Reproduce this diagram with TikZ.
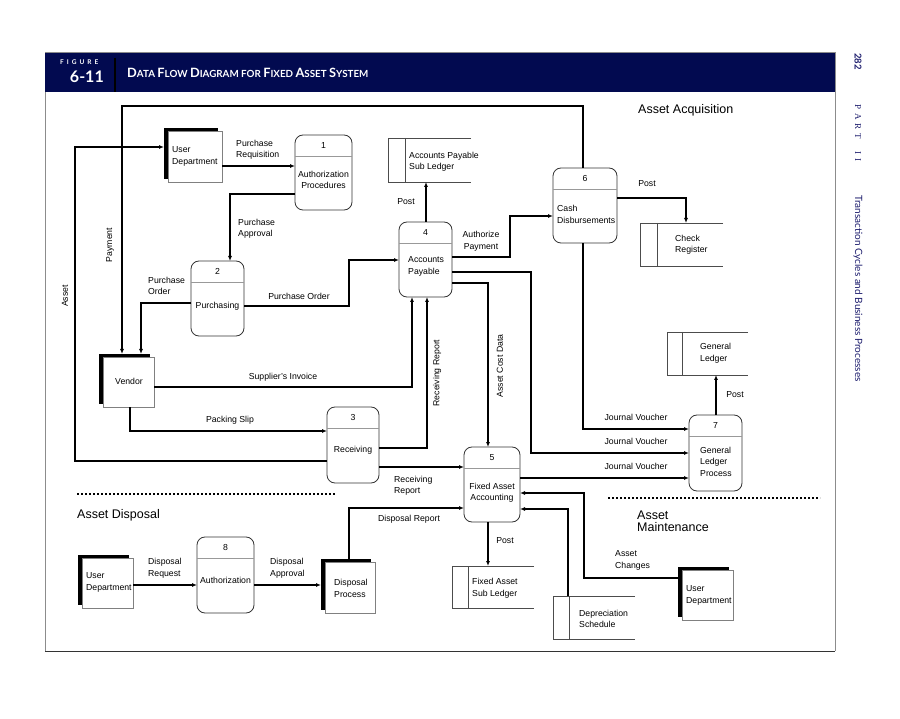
\documentclass[tikz,border=0pt]{standalone}
\usepackage{fontspec}
\setmainfont{Liberation Sans}
\newfontfamily\latofont{Lato}
\newfontfamily\seriffont{Liberation Serif}
\usetikzlibrary{arrows.meta,calc,fit}
\definecolor{navy}{RGB}{2,10,80}
\definecolor{margincol}{RGB}{30,30,110}
\newcommand\lf{\fontsize{8.7}{11.5}\selectfont}
\newcommand\mysc[2]{{\fontsize{12.8}{13}\selectfont #1}{\fontsize{9.8}{10}\selectfont #2}}
\tikzset{
  proc/.style={draw=black!80, line width=0.8pt, rounded corners=8pt, fill=white, inner sep=0pt, outer sep=0pt},
  divl/.style={draw=black!40, line width=0.8pt},
  entbox/.style={draw=black!50, line width=0.7pt, fill=white, inner sep=0pt, outer sep=0pt},
  entshadow/.style={fill=black, inner sep=0pt, outer sep=0pt},
  storeline/.style={draw=black!70, line width=0.8pt},
  flow/.style={line width=1.25pt, -{Latex[length=5pt,width=4pt]}},
  lbl/.style={align=left, anchor=west, inner sep=0pt},
  lblc/.style={align=center, inner sep=0pt},
  sect/.style={font=\fontsize{12.5}{13}\selectfont, align=left, anchor=west, inner sep=0pt},
  dotl/.style={line width=1.2pt, dash pattern=on 2pt off 2pt},
  margin/.style={text=margincol, rotate=-90, anchor=west, inner sep=0pt}
}
\newcommand\proc[6]{%
  \node[proc, minimum width=#4pt, minimum height=#5pt] (#1) at (#2,#3) {};
  \draw[divl] ([yshift=-21pt]#1.north west) -- ([yshift=-21pt]#1.north east);
  \node[inner sep=0pt] at ([yshift=-10.5pt]#1.north) {#6};
}
\newcommand\ent[5]{%
  \node[entshadow, minimum width=#4pt, minimum height=#5pt] (#1s) at ($(#2,#3)+(-4,-3)$) {};
  \node[entbox, minimum width=#4pt, minimum height=#5pt] (#1) at (#2,#3) {};
}
\newcommand\store[6]{%
  \node[inner sep=0pt, outer sep=0pt, fit={(#2,#3) (#4,#5)}] (#1) {};
  \draw[storeline] (#1.north east) -- (#1.north west) -- (#1.south west) -- (#1.south east);
  \draw[storeline] (#6,0 |- #1.north) -- (#6,0 |- #1.south);
}
\begin{document}
\begin{tikzpicture}[x=1pt,y=-1pt,font=\lf]
\useasboundingbox (0,0) rectangle (900,719);
\fill[white] (0,0) rectangle (900,719);

% header and frame
\fill[navy] (45,52) rectangle (835,92);
\draw[black!45, line width=0.8pt] (45,52) -- (835,52);
\draw[black!45, line width=1pt] (45,92) -- (45,651);
\draw[black!45, line width=1pt] (835,52) -- (835,651);
\draw[black!80, line width=1pt] (45,651) -- (835,651);
\draw[black, line width=1.8pt] (115,58) -- (115,92);
\node[text=white, anchor=west, inner sep=0pt, font=\latofont\bfseries\fontsize{6.5}{7}\selectfont] (fig) at (60,62) {F\hspace{3pt}I\hspace{3pt}G\hspace{3pt}U\hspace{3pt}R\hspace{3pt}E};
\node[text=white, anchor=east, inner sep=0pt, font=\latofont\bfseries\fontsize{16}{17}\selectfont] (fignum) at (104,77) {6-11};
\node[text=white, anchor=west, inner sep=0pt, font=\latofont\bfseries] (title) at (127,73) {\mysc{D}{ATA} \mysc{F}{LOW} \mysc{D}{IAGRAM} \mysc{}{FOR} \mysc{F}{IXED} \mysc{A}{SSET} \mysc{S}{YSTEM}};

% margin
\node[margin, font=\latofont\bfseries\fontsize{9.5}{10}\selectfont] (page) at (858,53) {282};
\node[margin, font=\seriffont\fontsize{9}{10}\selectfont] (part) at (858,104) {P\hspace{4pt}A\hspace{4pt}R\hspace{4pt}T\hspace{12pt}I\hspace{4pt}I};
\node[margin, font=\latofont\fontsize{10}{11}\selectfont] (chap) at (858,195) {Transaction Cycles and Business Processes};

% section titles
\node[sect] (acq) at (638,110) {Asset Acquisition};
\node[sect] (disp) at (77,515) {Asset Disposal};
\node[sect, font=\fontsize{12.5}{13}\selectfont] (maint) at (637,521.5) {Asset\\[-0.5pt]Maintenance};
\draw[dotl] (77,494) -- (335,494);
\draw[dotl] (608,498) -- (820,498);

% processes
\proc{p1}{323.5}{172.5}{57}{75}{1}
\node[lblc] at (323.5,180) {Authorization\\Procedures};
\proc{p2}{217.5}{298.5}{53}{75}{2}
\node[lblc] at (217.5,306) {Purchasing};
\proc{p3}{353}{445}{52}{76}{3}
\node[lblc] at (353,450) {Receiving};
\proc{p4}{425.5}{259.5}{53}{75}{4}
\node[lbl] at (408,266.5) {Accounts\\Payable};
\proc{p5}{492}{484.5}{56}{75}{5}
\node[lblc] at (492,492.5) {Fixed Asset\\Accounting};
\proc{p6}{585}{205.5}{64}{75}{6}
\node[lbl] at (557,214.5) {Cash\\Disbursements};
\proc{p7}{715.5}{453}{53}{76}{7}
\node[lbl] at (700,461.5) {General\\Ledger\\Process};
\proc{p8}{225.5}{575}{57}{76}{8}
\node[lblc] at (225.5,580) {Authorization};

% external entities
\ent{ud1}{195}{156.5}{54}{51}
\node[lbl] at (172,156.5) {User\\Department};
\ent{ven}{128.5}{382}{51}{50}
\node[lblc] at (129,381) {Vendor};
\ent{ud3}{107.5}{583}{51}{50}
\node[lbl] at (86,582.5) {User\\Department};
\ent{dp}{350}{587.5}{50}{51}
\node[lbl] at (334,588.5) {Disposal\\Process};
\ent{ud5}{707.5}{595}{51}{50}
\node[lbl] at (686,595.5) {User\\Department};

% data stores
\store{s1}{388}{138}{471}{182}{405}
\node[lbl] at (409,162) {Accounts Payable\\Sub Ledger};
\store{s2}{640}{223}{723}{266}{657}
\node[lbl] at (675,245) {Check\\Register};
\store{s3}{667}{332}{748}{375}{682}
\node[lbl] at (700,353.5) {General\\Ledger};
\store{s4}{452}{566}{534}{608}{468}
\node[lbl] at (472,588) {Fixed Asset\\Sub Ledger};
\store{s5}{553}{596}{635}{639}{569}
\node[lbl] at (579,619) {Depreciation\\Schedule};

% connectors
\draw[flow] (ud1.east |- 0,166) -- (p1.west |- 0,166);
\draw[flow] (p1.west |- 0,194) -| (230,0 |- p2.north);
\draw[flow] (p2.west |- 0,303) -| (141,0 |- vens.north);
\draw[flow] (p2.east |- 0,306) -- (349,306) |- (p4.west |- 0,260);
\draw[flow] (583,0 |- p6.north) -- (583,106) -| (122,0 |- vens.north);
\draw[flow] (p3.west |- 0,461) -- (75,461) |- (ud1s.west |- 0,147);
\draw[flow] (ven.east |- 0,387) -| (412,0 |- p4.south);
\draw[flow] (130,0 |- ven.south) |- (p3.west |- 0,431);
\draw[flow] (p3.east |- 0,448) -| (427,0 |- p4.south);
\draw[flow] (p3.east |- 0,467) -- (p5.west |- 0,467);
\draw[flow] (426,0 |- p4.north) -- (426,0 |- s1.south);
\draw[flow] (p4.east |- 0,257) -- (510,257) |- (p6.west |- 0,216);
\draw[flow] (p6.east |- 0,198) -| (686,0 |- s2.north);
\draw[flow] (583,0 |- p6.south) |- (p7.west |- 0,429);
\draw[flow] (p4.east |- 0,272) -- (531,272) |- (p7.west |- 0,453);
\draw[flow] (p4.east |- 0,283) -| (488,0 |- p5.north);
\draw[flow] (p5.east |- 0,478) -- (p7.west |- 0,478);
\draw[flow] (716,0 |- p7.north) -- (716,0 |- s3.south);
\draw[flow] (488,0 |- p5.south) -- (488,0 |- s4.north);
\draw[flow] (ud5s.west |- 0,578) -- (584,578) |- (p5.east |- 0,493);
\draw[flow] (568,0 |- s5.north) |- (p5.east |- 0,509);
\draw[flow] (ud3.east |- 0,585) -- (p8.west |- 0,585);
\draw[flow] (p8.east |- 0,585) -- (dps.west |- 0,585);
\draw[flow] (349,0 |- dps.north) |- (p5.west |- 0,508);

% connector labels
\node[lbl] at (236,150) {Purchase\\Requisition};
\node[lbl] at (238,229) {Purchase\\Approval};
\node[lbl] at (148,286) {Purchase\\Order};
\node[lblc] at (299,296) {Purchase Order};
\node[lblc, rotate=90] at (110,245) {Payment};
\node[lblc, rotate=90] at (65,296) {Asset};
\node[lblc] at (283,377) {Supplier's Invoice};
\node[lblc] at (230,420) {Packing Slip};
\node[lblc, rotate=90] at (437,373) {Receiving Report};
\node[lbl] at (394,485.5) {Receiving\\Report};
\node[lblc, rotate=90] at (500,366) {Asset Cost Data};
\node[lblc] at (406,202) {Post};
\node[lblc] at (481,241.5) {Authorize\\Payment};
\node[lblc] at (647,184) {Post};
\node[lblc] at (636,417) {Journal Voucher};
\node[lblc] at (636,441) {Journal Voucher};
\node[lblc] at (636,466) {Journal Voucher};
\node[lblc] at (735,395) {Post};
\node[lblc] at (505,541) {Post};
\node[lbl] at (615,560.5) {Asset\\Changes};
\node[lblc] at (409,519) {Disposal Report};
\node[lbl] at (148,568) {Disposal\\Request};
\node[lbl] at (270,568) {Disposal\\Approval};
\end{tikzpicture}
\end{document}
